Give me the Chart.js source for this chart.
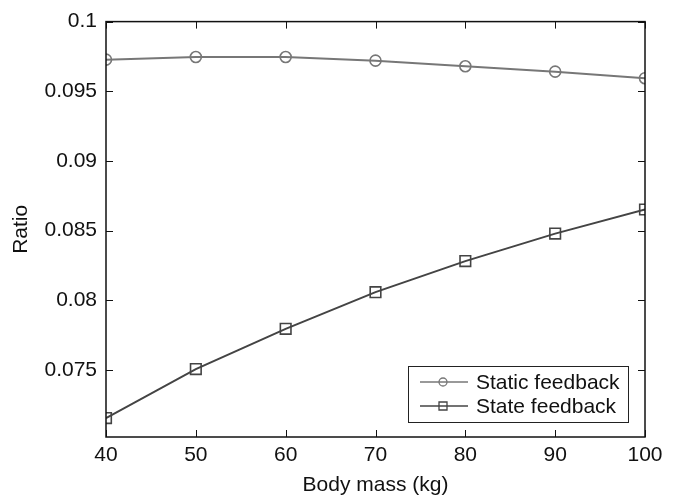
<!DOCTYPE html>
<html>
<head>
<meta charset="utf-8">
<script src="https://cdn.jsdelivr.net/npm/chart.js@4/dist/chart.umd.min.js"></script>
<style>
html,body{margin:0;padding:0;background:#fff;}
#wrap{width:678px;height:501px;position:relative;}
</style>
</head>
<body>
<div id="wrap"><canvas id="c" width="678" height="501"></canvas></div>
<script>
const bodyMass = [40, 50, 60, 70, 80, 90, 100];
const staticFeedback = [0.09727, 0.09746, 0.09746, 0.0972, 0.0968, 0.09641, 0.09594];
const stateFeedback = [0.07156, 0.07507, 0.07796, 0.08059, 0.08282, 0.08479, 0.08652];
const yTickValues = [0.075, 0.08, 0.085, 0.09, 0.095, 0.1];
const xTickValues = [40, 50, 60, 70, 80, 90, 100];
const seriesNames = ['Static feedback', 'State feedback'];

const FONT = "'Liberation Sans', Arial, sans-serif";

const framePlugin = {
  id: 'frame',
  afterDatasetsDraw(chart) {
    const {ctx, chartArea: a, scales} = chart;
    ctx.save();
    ctx.strokeStyle = '#111';
    ctx.lineWidth = 1.5;
    ctx.strokeRect(a.left, a.top, a.right - a.left, a.bottom - a.top);
    ctx.lineWidth = 1;
    const L = 7;
    ctx.beginPath();
    scales.x.ticks.forEach(t => {
      const px = Math.round(scales.x.getPixelForValue(t.value)) + 0.5;
      ctx.moveTo(px, a.bottom); ctx.lineTo(px, a.bottom - L);
      ctx.moveTo(px, a.top); ctx.lineTo(px, a.top + L);
    });
    scales.y.ticks.forEach(t => {
      const py = Math.round(scales.y.getPixelForValue(t.value)) + 0.5;
      ctx.moveTo(a.left, py); ctx.lineTo(a.left + L, py);
      ctx.moveTo(a.right, py); ctx.lineTo(a.right - L, py);
    });
    ctx.stroke();

    // legend box
    const bx = 408, by = 366, bw = 220, bh = 56;
    ctx.fillStyle = '#fff';
    ctx.fillRect(bx, by, bw, bh);
    ctx.strokeStyle = '#222';
    ctx.lineWidth = 1;
    ctx.strokeRect(bx + 0.5, by + 0.5, bw, bh);
    chart.data.datasets.forEach((ds, i) => {
      const y = by + 16 + i * 24;
      ctx.strokeStyle = ds.borderColor;
      ctx.lineWidth = 1.5;
      ctx.beginPath();
      ctx.moveTo(bx + 12, y); ctx.lineTo(bx + 60, y);
      ctx.stroke();
      ctx.lineWidth = 1.3;
      ctx.beginPath();
      if (ds.pointStyle === 'circle') {
        ctx.arc(bx + 35, y, 4, 0, Math.PI * 2);
      } else {
        ctx.rect(bx + 31, y - 4, 8, 8);
      }
      ctx.stroke();
      ctx.fillStyle = '#111';
      ctx.font = "21px " + FONT;
      ctx.textBaseline = 'middle';
      ctx.textAlign = 'left';
      ctx.fillText(ds.label, bx + 68, y + 1);
    });
    ctx.restore();
  }
};

new Chart(document.getElementById('c'), {
  type: 'line',
  data: {
    datasets: [
      {
        label: seriesNames[0],
        data: bodyMass.map((x, i) => ({x, y: staticFeedback[i]})),
        borderColor: '#777777',
        backgroundColor: 'transparent',
        borderWidth: 2,
        pointStyle: 'circle',
        pointRadius: 5.5,
        pointBorderWidth: 1.6,
        pointBorderColor: '#777777',
        pointBackgroundColor: 'transparent',
        tension: 0
      },
      {
        label: seriesNames[1],
        data: bodyMass.map((x, i) => ({x, y: stateFeedback[i]})),
        borderColor: '#444444',
        backgroundColor: 'transparent',
        borderWidth: 2,
        pointStyle: 'rect',
        pointRadius: 7.5,
        pointBorderWidth: 1.6,
        pointBorderColor: '#444444',
        pointBackgroundColor: 'transparent',
        tension: 0
      }
    ]
  },
  options: {
    responsive: false,
    animation: false,
    events: [],
    layout: {padding: {top: 15, right: 33, left: 0, bottom: 0}},
    plugins: {legend: {display: false}, tooltip: {enabled: false}},
    scales: {
      x: {
        type: 'linear',
        min: 40, max: 100,
        afterBuildTicks: s => { s.ticks = xTickValues.map(v => ({value: v})); },
        afterFit: s => { s.height = 64; },
        grid: {display: false, drawTicks: false},
        border: {display: false},
        ticks: {color: '#111', font: {family: FONT, size: 21}, padding: 6, maxRotation: 0},
        title: {display: true, text: 'Body mass (kg)', color: '#111', font: {family: FONT, size: 21}, padding: {top: 0, bottom: 3}}
      },
      y: {
        type: 'linear',
        min: 0.0702, max: 0.1,
        afterBuildTicks: s => { s.ticks = yTickValues.map(v => ({value: v})); },
        afterFit: s => { s.width = 106; },
        grid: {display: false, drawTicks: false},
        border: {display: false},
        ticks: {color: '#111', font: {family: FONT, size: 21}, padding: 9,
          callback: v => String(parseFloat(v.toFixed(4)))},
        title: {display: true, text: 'Ratio', color: '#111', font: {family: FONT, size: 21}, padding: {top: 9, bottom: 0}}
      }
    }
  },
  plugins: [framePlugin]
});
</script>
</body>
</html>
